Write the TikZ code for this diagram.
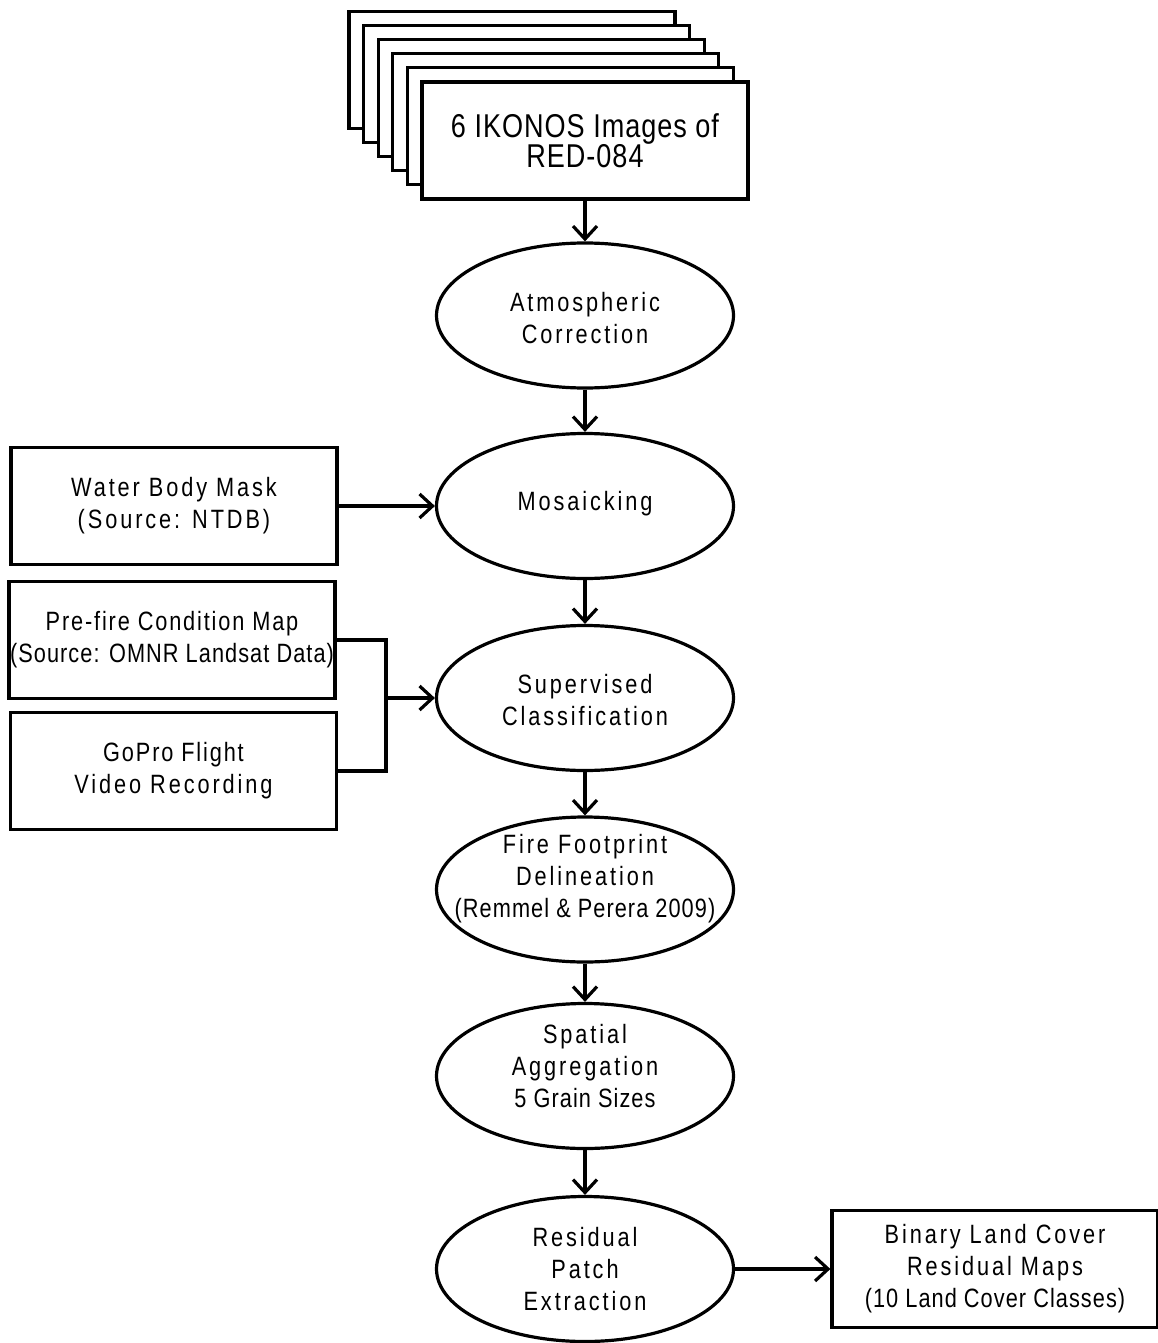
\documentclass[tikz,border=0pt]{standalone}
\usepackage{fontspec}
\setmainfont{Liberation Sans}
\newfontfamily\spfont{Liberation Sans}[FakeStretch=0.82,LetterSpace=11]
\newfontfamily\mfont{Liberation Sans}[FakeStretch=0.82,LetterSpace=7]
\newfontfamily\tfont{Liberation Sans}[FakeStretch=0.82,LetterSpace=4]
\newfontfamily\topfont{Liberation Sans}[FakeStretch=0.82,LetterSpace=3]
\usetikzlibrary{arrows.meta,shapes.geometric}
\begin{document}
\begin{tikzpicture}[x=1pt,y=-1pt,
  lw/.style={line width=3.2pt},
  boxn/.style={draw,lw,fill=white,rectangle,minimum width=326pt,minimum height=117pt,inner sep=1pt,align=center,font=\fontsize{26.5}{32}\selectfont\spfont},
  stackn/.style={draw,lw,fill=white,rectangle,minimum width=326pt,minimum height=117pt,inner sep=0pt},
  proc/.style={draw,lw,ellipse,minimum width=297pt,minimum height=145pt,inner sep=0pt},
  ptext/.style={align=center,font=\fontsize{26.5}{32}\selectfont\spfont,inner sep=0pt},
  arr/.style={lw,-{Straight Barb[length=13pt,width=24pt]}},
  line join=miter]
\useasboundingbox (0,0) rectangle (1158,1343);
% stacked images
\node[stackn] (s1) at (512,70) {};
\node[stackn] (s2) at (526.6,84) {};
\node[stackn] (s3) at (541.2,98) {};
\node[stackn] (s4) at (555.8,112) {};
\node[stackn] (s5) at (570.4,126) {};
\node[boxn,font=\fontsize{33}{30}\selectfont\topfont] (ikonos) at (585,140.5) {6 IKONOS Images of\\RED-084};
% process ellipses
\node[proc] (atm) at (585,315.5) {};
\node[ptext] (atmt) at (585,318) {Atmospheric\\Correction};
\node[proc] (mos) at (585,506) {};
\node[ptext] (most) at (585,504) {Mosaicking};
\node[proc] (sup) at (585,698) {};
\node[ptext] (supt) at (585,700) {Supervised\\Classification};
\node[proc] (fire) at (585,889.5) {};
\node[ptext] (firet) at (585,879) {Fire Footprint\\Delineation\\{\tfont(Remmel \& Perera 2009)}};
\node[proc] (spat) at (585,1076) {};
\node[ptext] (spatt) at (585,1066) {Spatial\\Aggregation\\{\tfont 5 Grain Sizes}};
\node[proc] (res) at (585,1269) {};
\node[ptext] (rest) at (585,1269) {Residual\\Patch\\Extraction};
% side boxes
\node[boxn] (water) at (174,506) {Water Body Mask\\(Source: NTDB)};
\node[boxn] (prefire) at (172,640) {{\mfont Pre-fire Condition Map}\\{\tfont(Source: OMNR Landsat Data)}};
\node[boxn] (gopro) at (173.5,771) {{\mfont GoPro Flight}\\Video Recording};
\node[boxn] (binary) at (995,1269) {Binary Land Cover\\Residual Maps\\{\tfont(10 Land Cover Classes)}};
% connectors
\draw[arr] (ikonos) -- (atm);
\draw[arr] (atm) -- (mos);
\draw[arr] (mos) -- (sup);
\draw[arr] (sup) -- (fire);
\draw[arr] (fire) -- (spat);
\draw[arr] (spat) -- (res);
\draw[arr] (water) -- (mos);
\coordinate (jn) at (386,698);
\draw[lw] (prefire.east) -| (jn) |- (gopro.east);
\draw[arr] (jn) -- (sup);
\draw[arr] (res) -- (binary);
\end{tikzpicture}
\end{document}
